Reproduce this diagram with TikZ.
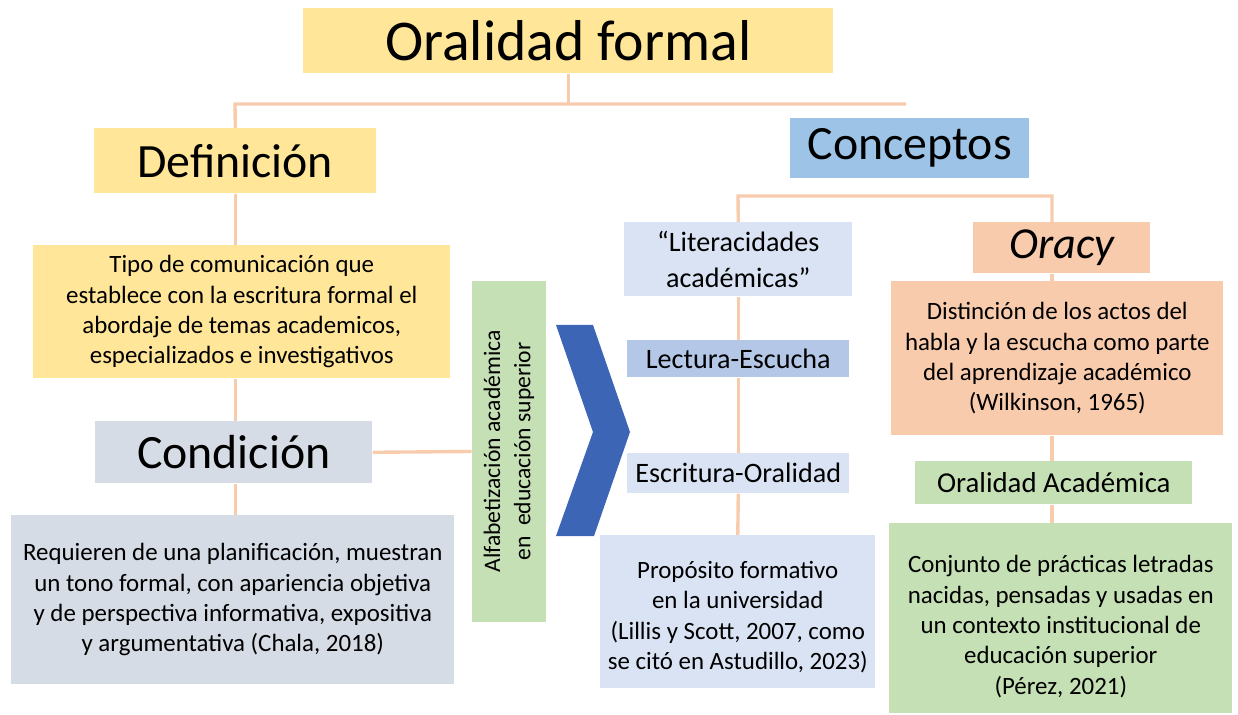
\documentclass[tikz,border=0pt]{standalone}
\usepackage{fontspec}
\setmainfont{Carlito}
\usepackage{tikz}
\usetikzlibrary{arrows}
\definecolor{amarillo}{HTML}{FFE699}
\definecolor{grisazul}{HTML}{D6DCE5}
\definecolor{verde}{HTML}{C5E0B4}
\definecolor{celeste}{HTML}{9DC3E6}
\definecolor{azulclaro}{HTML}{DAE3F3}
\definecolor{azulmedio}{HTML}{B4C7E7}
\definecolor{salmon}{HTML}{F8CBAD}
\definecolor{azulfuerte}{HTML}{3D65B6}

\begin{document}
\begin{tikzpicture}[x=0.025cm,y=-0.025cm,
    caja/.style={inner sep=0pt, align=center, anchor=north west},
    sz/.style 2 args={minimum width=#1*0.025cm, minimum height=#2*0.025cm},
    enlace/.style={draw=salmon, line width=2.4pt},
    cuerpo/.style={font=\fontsize{17.7}{21.6}\selectfont},
    medio/.style={font=\fontsize{20}{25.6}\selectfont},
    grande/.style={font=\fontsize{34}{40}\selectfont}]
    \useasboundingbox (0,0) rectangle (1238,715);
    % columna izquierda
    \node[caja, sz={530}{65}, fill=amarillo, font=\fontsize{41}{48}\selectfont] (title) at (303,8) {Oralidad formal};
    \node[caja, sz={282}{65}, fill=amarillo, grande] (defin) at (94,128) {Definición};
    \node[caja, sz={417}{133}, fill=amarillo, cuerpo] (tipo) at (33,245) {Tipo de comunicación que\\establece con la escritura formal el\\abordaje de temas academicos,\\especializados e investigativos};
    \node[caja, sz={277}{62}, fill=grisazul, grande] (cond) at (95,421) {Condición};
    \node[caja, sz={443}{169}, fill=grisazul, cuerpo] (req) at (11,515) {Requieren de una planificación, muestran\\un tono formal, con apariencia objetiva\\y de perspectiva informativa, expositiva\\y argumentativa (Chala, 2018)};
    \node[caja, sz={341}{74}, fill=verde, font=\fontsize{16.8}{21.6}\selectfont, anchor=center, rotate=90] (alfa) at (509,451.5) {Alfabetización académica\\en~ educación superior};
    \fill[azulfuerte] (556,325) -- (593,325) -- (630,432) -- (594,536) -- (556,536) -- (593,432) -- cycle;
    % conceptos
    \node[caja, sz={239}{60}, fill=celeste, grande] (conc) at (790,118) {Conceptos};
    \node[caja, sz={228}{74}, fill=azulclaro, medio] (lit) at (624,222) {“Literacidades\\académicas”};
    \node[caja, sz={222}{37}, fill=azulmedio, medio] (lect) at (627,340) {Lectura-Escucha};
    \node[caja, sz={222}{40}, fill=azulclaro, medio] (escr) at (627,453) {Escritura-Oralidad};
    \node[caja, sz={275}{153}, fill=azulclaro, cuerpo] (prop) at (600,535) {\rule{0pt}{20pt}Propósito formativo\\en la universidad\\(Lillis y Scott, 2007, como\\se citó en Astudillo, 2023)};
    \node[caja, sz={177}{51}, fill=salmon, font=\fontsize{31.5}{36}\selectfont\itshape] (oracy) at (973,222) {Oracy};
    \node[caja, sz={332}{154}, fill=salmon, cuerpo] (dist) at (891,281) {Distinción de los actos del\\habla y la escucha como parte\\del aprendizaje académico\\(Wilkinson, 1965)};
    \node[caja, sz={277}{43}, fill=verde, font=\fontsize{20.5}{24}\selectfont] (oa) at (915,461) {Oralidad Académica};
    \node[caja, sz={343}{190}, fill=verde, cuerpo] (conj) at (889,523) {\rule{0pt}{24pt}Conjunto de prácticas letradas\\nacidas, pensadas y usadas en\\un contexto institucional de\\educación superior\\(Pérez, 2021)};
    % enlaces
    \coordinate (barL) at (235,104);
    \coordinate (barR) at (906,104);
    \coordinate (cbarL) at (738,196);
    \coordinate (cbarR) at (1052,196);
    \draw[enlace] (title.south) -- (title.south |- barL);
    \draw[enlace] (barR) -- (barL) -- (defin.north);
    \draw[enlace] (defin.south) -- (defin.south |- tipo.north);
    \draw[enlace] (defin.south |- tipo.south) -- (defin.south |- cond.north);
    \draw[enlace] (defin.south |- cond.south) -- (defin.south |- req.north);
    \draw[enlace] (cond.east) -- (alfa.north);
    \draw[enlace] (lit.north) -- (cbarL) -- (cbarR) -- (cbarR |- oracy.north);
    \foreach \a/\b in {lit/lect, lect/escr, escr/prop}
        \draw[enlace] (\a.south) -- (\b.north);
    \draw[enlace] (cbarR |- oracy.south) -- (cbarR |- dist.north);
    \draw[enlace] (cbarR |- dist.south) -- (cbarR |- oa.north);
    \draw[enlace] (cbarR |- oa.south) -- (cbarR |- conj.north);
\end{tikzpicture}
\end{document}
